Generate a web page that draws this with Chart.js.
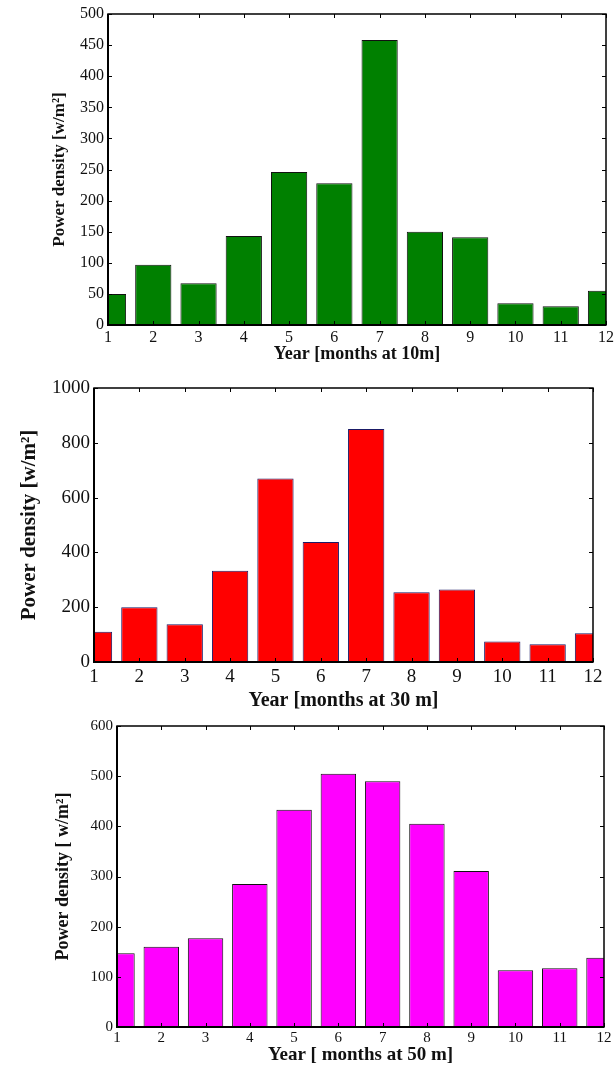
<!DOCTYPE html>
<html>
<head>
<meta charset="utf-8">
<script src="https://cdn.jsdelivr.net/npm/chart.js@4.4.1/dist/chart.umd.min.js"></script>
<style>
  html, body { margin: 0; padding: 0; background: #fff; }
  body { width: 614px; height: 1068px; position: relative; overflow: hidden; }
  canvas { position: absolute; left: 0; }
</style>
</head>
<body>
<canvas id="c10" width="614" height="364" style="top:0px"></canvas>
<canvas id="c30" width="614" height="348" style="top:364px"></canvas>
<canvas id="c50" width="614" height="356" style="top:712px"></canvas>
<script>
// months along x (bars centred on each, axis runs from 1 to 12)
const months = ['1', '2', '3', '4', '5', '6', '7', '8', '9', '10', '11', '12'];

// power density per month [w/m2]
const density10m = [50, 97, 67, 143, 246, 228, 458, 150, 141, 35, 30, 55];
const density30m = [110, 200, 138, 333, 670, 438, 850, 255, 265, 75, 65, 105];
const density50m = [147, 160, 177, 285, 433, 505, 490, 405, 311, 113, 117, 138];

// y axis ranges
const yMax10m = 500, yStep10m = 50;
const yMax30m = 1000, yStep30m = 200;
const yMax50m = 600, yStep50m = 100;

const SERIF = "'Liberation Serif', 'Times New Roman', serif";

// matlab-ish box: frame all round + inward ticks on every side
const boxPlugin = {
  id: 'box',
  afterDatasetsDraw(chart) {
    const { ctx, chartArea: a, scales: { x, y } } = chart;
    const len = 4;
    ctx.save();
    ctx.strokeStyle = '#000';
    ctx.lineWidth = 1;
    ctx.beginPath();
    x.ticks.forEach((t, i) => {
      const px = Math.round(x.getPixelForTick(i)) + 0.5;
      ctx.moveTo(px, a.top); ctx.lineTo(px, a.top + len);
      ctx.moveTo(px, a.bottom); ctx.lineTo(px, a.bottom - len);
    });
    y.ticks.forEach((t, i) => {
      const py = Math.round(y.getPixelForTick(i)) + 0.5;
      ctx.moveTo(a.left, py); ctx.lineTo(a.left + len, py);
      ctx.moveTo(a.right, py); ctx.lineTo(a.right - len, py);
    });
    ctx.stroke();
    ctx.lineWidth = 1.5;
    ctx.strokeRect(a.left, a.top, a.right - a.left, a.bottom - a.top);
    ctx.lineWidth = 2;
    ctx.beginPath();
    ctx.moveTo(a.left, a.top); ctx.lineTo(a.left, a.bottom); ctx.lineTo(a.right, a.bottom);
    ctx.stroke();
    ctx.restore();
  }
};

// p: canvas top/height, plot box in page coords, title centres, font sizes
function makeChart(id, p) {
  const ctx = document.getElementById(id).getContext('2d');
  const xLH = p.xTitleSize * 1.2;
  const yLH = p.yTitleSize * 1.2;
  return new Chart(ctx, {
    type: 'bar',
    data: {
      labels: months,
      datasets: [{
        data: p.values,
        backgroundColor: p.fill,
        borderColor: p.edge,
        borderWidth: 1,
        borderSkipped: false,
        categoryPercentage: 0.8,
        barPercentage: 1,
        clip: 0
      }]
    },
    options: {
      responsive: false,
      devicePixelRatio: 1,
      animation: false,
      layout: {
        padding: { top: p.top - p.canvasTop, right: 614 - p.right, bottom: 0, left: 0 }
      },
      plugins: { legend: { display: false }, tooltip: { enabled: false } },
      scales: {
        x: {
          type: 'category',
          offset: false,
          grid: { display: false, offset: false, drawTicks: false },
          border: { display: false },
          ticks: {
            color: '#111',
            font: { family: SERIF, size: p.tickSize },
            padding: p.xTickPad,
            maxRotation: 0,
            autoSkip: false
          },
          title: {
            display: true,
            text: p.xTitle,
            color: '#111',
            font: { family: SERIF, size: p.xTitleSize, weight: 'bold' },
            padding: { top: 0, bottom: p.canvasTop + p.canvasH - p.xTitleY - xLH / 2 }
          },
          afterFit(s) {
            s.height = p.canvasTop + p.canvasH - p.bottom;
            s.paddingLeft = 0; s.paddingRight = 0;
          }
        },
        y: {
          min: 0,
          max: p.yMax,
          grid: { display: false, drawTicks: false },
          border: { display: false },
          ticks: {
            stepSize: p.yStep,
            color: '#111',
            font: { family: SERIF, size: p.tickSize },
            padding: 4,
            callback: v => String(v)
          },
          title: {
            display: true,
            text: p.yTitle,
            color: '#111',
            font: { family: SERIF, size: p.yTitleSize, weight: 'bold' },
            padding: { top: p.yTitleX - yLH / 2, bottom: 0 }
          },
          afterFit(s) {
            s.width = p.left;
            s.paddingTop = 0; s.paddingBottom = 0;
          }
        }
      }
    },
    plugins: [boxPlugin]
  });
}

makeChart('c10', {
  values: density10m, fill: 'rgb(0,128,0)', edge: '#111',
  canvasTop: 0, canvasH: 364, left: 108, right: 606, top: 14, bottom: 325,
  yMax: yMax10m, yStep: yStep10m, tickSize: 16, xTitleSize: 18, yTitleSize: 17, xTickPad: 3,
  xTitle: 'Year [months at 10m]', xTitleY: 354,
  yTitle: 'Power density [w/m\u00b2]', yTitleX: 60
});

makeChart('c30', {
  values: density30m, fill: 'rgb(255,0,0)', edge: '#1a1a66',
  canvasTop: 364, canvasH: 348, left: 94, right: 593, top: 388, bottom: 662,
  yMax: yMax30m, yStep: yStep30m, tickSize: 19, xTitleSize: 20, yTitleSize: 21, xTickPad: 4,
  xTitle: 'Year [months at 30 m]', xTitleY: 701,
  yTitle: 'Power density [w/m\u00b2]', yTitleX: 30
});

makeChart('c50', {
  values: density50m, fill: 'rgb(255,0,255)', edge: '#111',
  canvasTop: 712, canvasH: 356, left: 117, right: 604, top: 726, bottom: 1027,
  yMax: yMax50m, yStep: yStep50m, tickSize: 15, xTitleSize: 19, yTitleSize: 18, xTickPad: 2,
  xTitle: 'Year [ months at 50 m]', xTitleY: 1055,
  yTitle: 'Power density [ w/m\u00b2]', yTitleX: 63
});
</script>
</body>
</html>
